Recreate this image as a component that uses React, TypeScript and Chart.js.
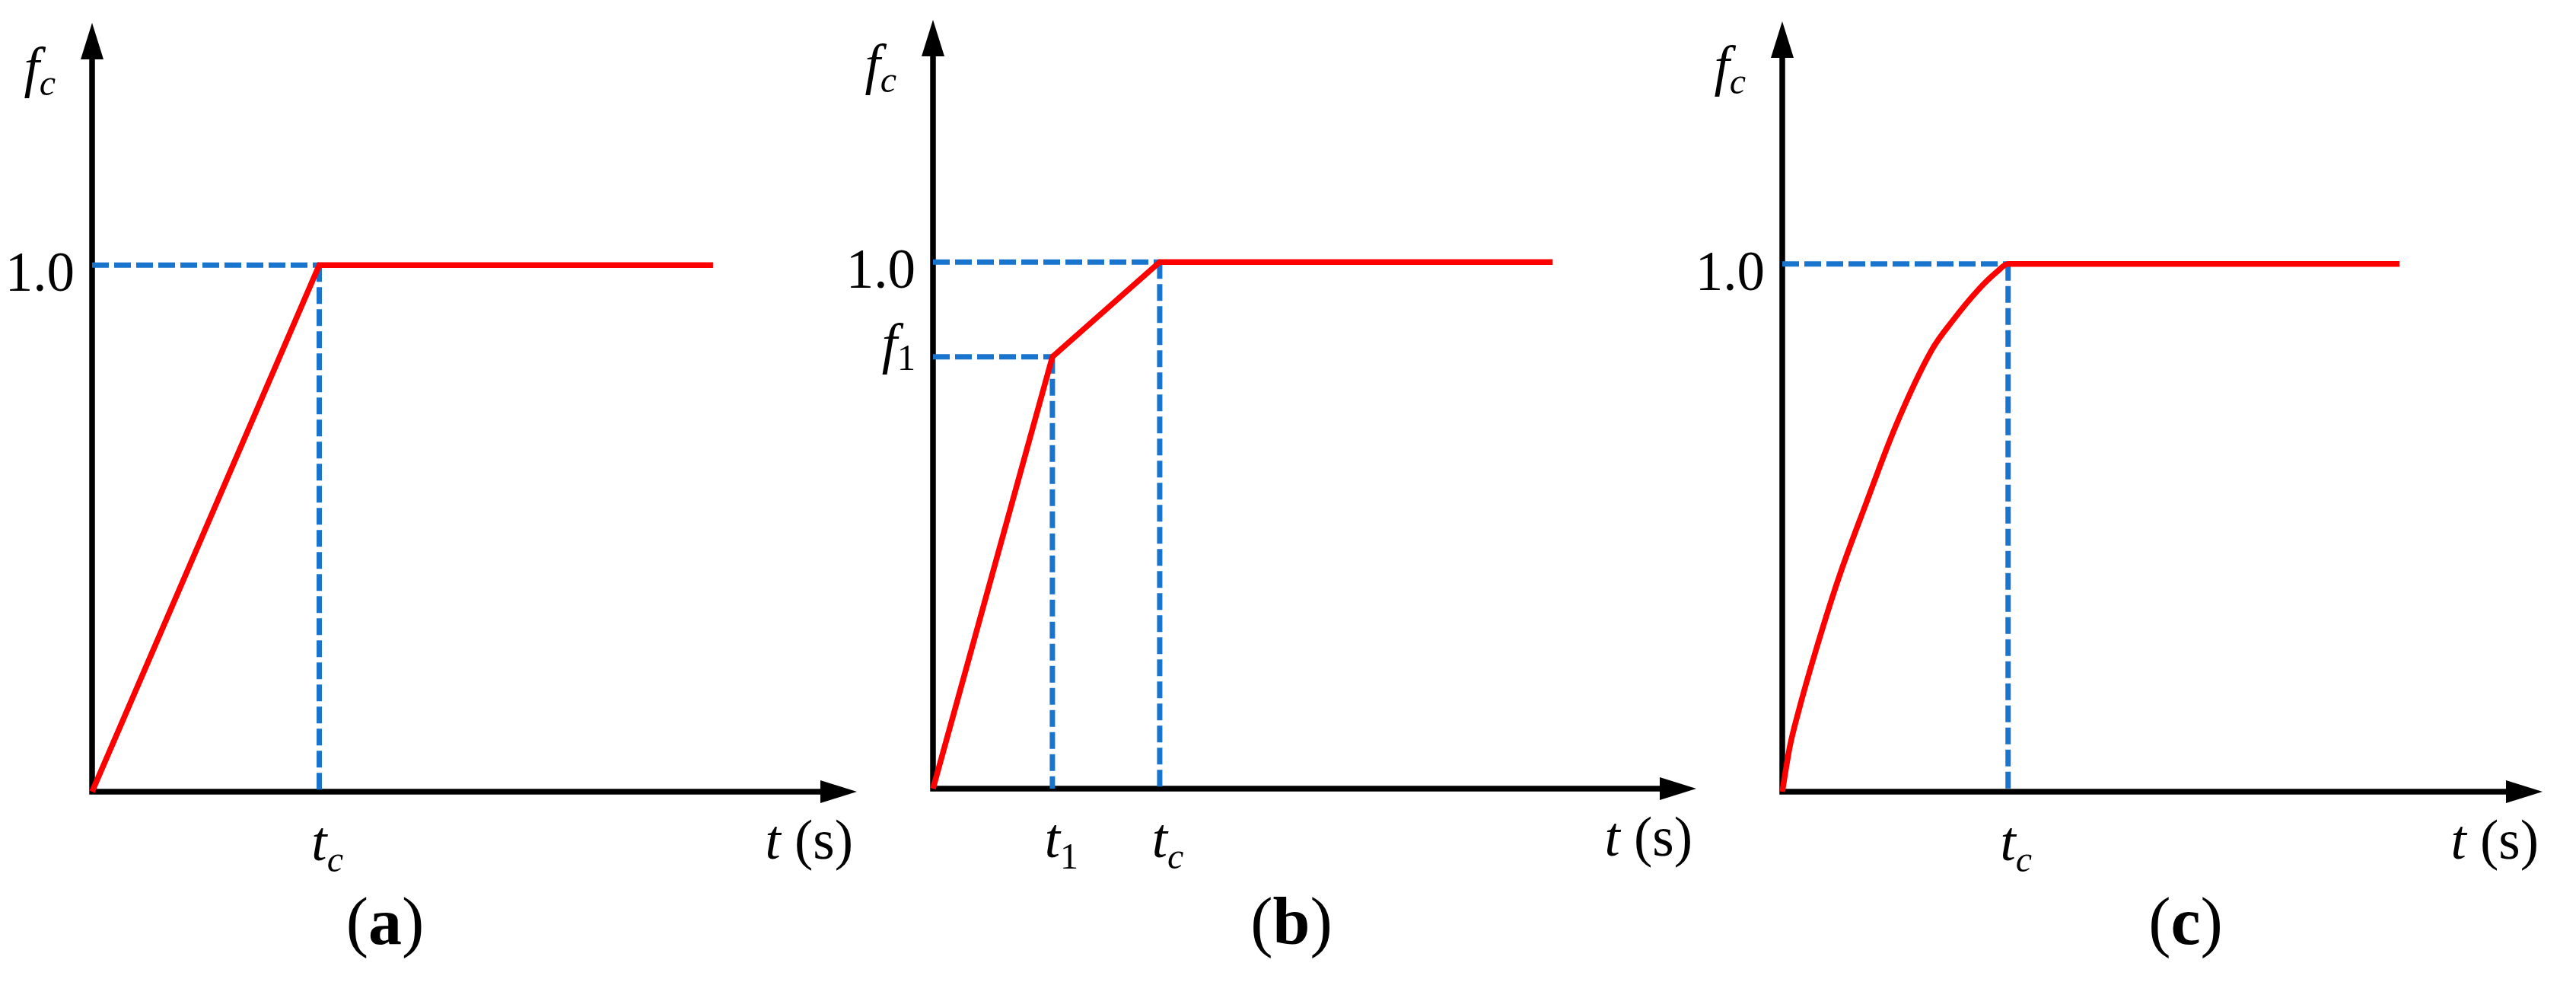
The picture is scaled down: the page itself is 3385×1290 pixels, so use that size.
import React, { useEffect, useRef } from 'react';
import { Chart, registerables } from 'chart.js';

Chart.register(...registerables);

// ---------------- data ----------------
const T_MAX = 10.1;
const F_MAX = 1.46;

// (a) linear ramp up to t_c, then constant
const aTime = [0, 3, 8.2];
const aForce = [0, 1, 1];
const aTimeTicks = [3];
const aTimeTickLabels = ['t_c'];
const aForceTicks = [1];
const aForceTickLabels = ['1.0'];

// (b) bilinear ramp (t_1, f_1) -> (t_c, 1.0), then constant
const bTime = [0, 1.58, 3, 8.2];
const bForce = [0, 0.82, 1, 1];
const bTimeTicks = [1.58, 3];
const bTimeTickLabels = ['t_1', 't_c'];
const bForceTicks = [0.82, 1];
const bForceTickLabels = ['f_1', '1.0'];

// (c) curved ramp up to t_c, then constant
const cTime = [0, 0.1, 0.21, 0.43, 0.75, 1.11, 1.51, 1.99, 2.26, 2.59, 2.85, 3.0, 8.2];
const cForce = [0, 0.085, 0.149, 0.26, 0.405, 0.545, 0.694, 0.838, 0.892, 0.949, 0.985, 1.0, 1.0];
const cTimeTicks = [3];
const cTimeTickLabels = ['t_c'];
const cForceTicks = [1];
const cForceTickLabels = ['1.0'];

const xAxisTitle = 't (s)';
const yAxisTitle = 'f_c';
const captions = ['a', 'b', 'c'];

type Panel = {
  time: number[];
  force: number[];
  timeTicks: number[];
  timeTickLabels: string[];
  forceTicks: number[];
  forceTickLabels: string[];
  caption: string;
  smooth: boolean;
};

const PANELS: Panel[] = [
  { time: aTime, force: aForce, timeTicks: aTimeTicks, timeTickLabels: aTimeTickLabels, forceTicks: aForceTicks, forceTickLabels: aForceTickLabels, caption: captions[0], smooth: false },
  { time: bTime, force: bForce, timeTicks: bTimeTicks, timeTickLabels: bTimeTickLabels, forceTicks: bForceTicks, forceTickLabels: bForceTickLabels, caption: captions[1], smooth: false },
  { time: cTime, force: cForce, timeTicks: cTimeTicks, timeTickLabels: cTimeTickLabels, forceTicks: cForceTicks, forceTickLabels: cForceTickLabels, caption: captions[2], smooth: true },
];

// ---------------- layout & style ----------------
const FIG_W = 3385;
const FIG_H = 1290;
const LAYOUT = [
  { left: 0, width: 1140, originX: 121, originY: 1040, tipX: 1126, tipY: 30, captionX: 506 },
  { left: 1100, width: 1140, originX: 1226, originY: 1036, tipX: 2229, tipY: 26, captionX: 1697 },
  { left: 2200, width: 1185, originX: 2342, originY: 1040, tipX: 3341, tipY: 28, captionX: 2872 },
];

const RED = '#ff0000';
const BLUE = '#1874cd';
const BLACK = '#000000';
const SERIF = "'Liberation Serif', 'Times New Roman', serif";
const FONT_SIZE = 73;
const SUB_SIZE = 48;
const CAPTION_SIZE = 88;
const AXIS_W = 7.5;
const RED_W = 7.5;
const BLUE_W = 7;
const ARROW_LEN = 48;
const ARROW_HALF = 15;

type Run = { text: string; font: string; dy: number };

const isNum = (s: string) => /^[0-9.]+$/.test(s);

function labelRuns(label: string, subDy: number): Run[] {
  const [main, sub] = label.split('_');
  const runs: Run[] = [{ text: main, font: `${isNum(main) ? '' : 'italic '}${FONT_SIZE}px ${SERIF}`, dy: 0 }];
  if (sub) runs.push({ text: sub, font: `${isNum(sub) ? '' : 'italic '}${SUB_SIZE}px ${SERIF}`, dy: subDy });
  return runs;
}

function drawRuns(ctx: CanvasRenderingContext2D, runs: Run[], x: number, y: number, align: 'left' | 'center' | 'right' | 'firstCenter') {
  const widths = runs.map((r) => {
    ctx.font = r.font;
    return ctx.measureText(r.text).width;
  });
  const total = widths.reduce((s, w) => s + w, 0);
  let cx = x;
  if (align === 'center') cx = x - total / 2;
  else if (align === 'right') cx = x - total;
  else if (align === 'firstCenter') cx = x - widths[0] / 2;
  ctx.textAlign = 'left';
  ctx.textBaseline = 'alphabetic';
  ctx.fillStyle = BLACK;
  runs.forEach((r, i) => {
    ctx.font = r.font;
    ctx.fillText(r.text, cx, y + r.dy);
    cx += widths[i];
  });
}

function PanelChart({ index }: { index: number }) {
  const ref = useRef<HTMLCanvasElement>(null);
  const L = LAYOUT[index];

  useEffect(() => {
    const p = PANELS[index];
    const canvas = ref.current;
    if (!canvas) return;

    const curve = p.time.map((t, i) => ({ x: t, y: p.force[i] }));
    const guides: any[] = [];
    p.timeTicks.forEach((t, i) => {
      const f = p.forceTicks[i];
      guides.push([{ x: 0, y: f }, { x: t, y: f }]);
      guides.push([{ x: t, y: f }, { x: t, y: 0 }]);
    });

    const datasets: any[] = [
      {
        data: curve,
        borderColor: RED,
        borderWidth: RED_W,
        pointRadius: 0,
        fill: false,
        tension: 0,
        cubicInterpolationMode: p.smooth ? 'monotone' : 'default',
        borderJoinStyle: 'miter',
        clip: false,
      },
      ...guides.map((g) => ({
        data: g,
        borderColor: BLUE,
        borderWidth: BLUE_W,
        borderDash: [22, 7],
        borderCapStyle: 'butt',
        pointRadius: 0,
        fill: false,
        tension: 0,
        clip: false,
      })),
    ];

    const decor = {
      id: 'decor' + index,
      beforeDatasetsDraw(chart: any) {
        const ctx: CanvasRenderingContext2D = chart.ctx;
        const xs = chart.scales.x;
        const ys = chart.scales.y;
        const ox = xs.getPixelForValue(0);
        const oy = ys.getPixelForValue(0);
        const tx = xs.getPixelForValue(T_MAX);
        const ty = ys.getPixelForValue(F_MAX);
        ctx.save();
        ctx.strokeStyle = BLACK;
        ctx.fillStyle = BLACK;
        ctx.lineWidth = AXIS_W;
        ctx.lineCap = 'butt';
        ctx.setLineDash([]);
        ctx.beginPath();
        ctx.moveTo(ox, oy + AXIS_W / 2);
        ctx.lineTo(ox, ty + ARROW_LEN - 1);
        ctx.moveTo(ox - AXIS_W / 2, oy);
        ctx.lineTo(tx - ARROW_LEN + 1, oy);
        ctx.stroke();
        ctx.beginPath();
        ctx.moveTo(ox, ty);
        ctx.lineTo(ox - ARROW_HALF, ty + ARROW_LEN);
        ctx.lineTo(ox + ARROW_HALF, ty + ARROW_LEN);
        ctx.closePath();
        ctx.fill();
        ctx.beginPath();
        ctx.moveTo(tx, oy);
        ctx.lineTo(tx - ARROW_LEN, oy - ARROW_HALF);
        ctx.lineTo(tx - ARROW_LEN, oy + ARROW_HALF);
        ctx.closePath();
        ctx.fill();
        ctx.restore();
      },
      afterDatasetsDraw(chart: any) {
        const ctx: CanvasRenderingContext2D = chart.ctx;
        const xs = chart.scales.x;
        const ys = chart.scales.y;
        const ox = xs.getPixelForValue(0);
        const oy = ys.getPixelForValue(0);
        const tx = xs.getPixelForValue(T_MAX);
        const ty = ys.getPixelForValue(F_MAX);
        ctx.save();
        // force tick labels
        p.forceTicks.forEach((f, i) => {
          const lab = p.forceTickLabels[i];
          const dy = isNum(lab) ? 34 : 7;
          drawRuns(ctx, labelRuns(lab, 10), ox - 23, ys.getPixelForValue(f) + dy, 'right');
        });
        // time tick labels
        p.timeTicks.forEach((t, i) => {
          drawRuns(ctx, labelRuns(p.timeTickLabels[i], 15), xs.getPixelForValue(t), oy + 90, 'firstCenter');
        });
        // axis titles
        const [v, ...rest] = xAxisTitle.split(' ');
        drawRuns(
          ctx,
          [
            { text: v, font: `italic ${FONT_SIZE}px ${SERIF}`, dy: 0 },
            { text: ' ' + rest.join(' '), font: `${FONT_SIZE}px ${SERIF}`, dy: 0 },
          ],
          tx - 5,
          oy + 88,
          'right'
        );
        drawRuns(ctx, labelRuns(yAxisTitle, 12), ox - 48, ty + 83, 'right');
        // caption
        drawRuns(
          ctx,
          [
            { text: '(', font: `${CAPTION_SIZE}px ${SERIF}`, dy: 0 },
            { text: p.caption, font: `bold ${CAPTION_SIZE}px ${SERIF}`, dy: 0 },
            { text: ')', font: `${CAPTION_SIZE}px ${SERIF}`, dy: 0 },
          ],
          L.captionX - L.left,
          1240,
          'center'
        );
        ctx.restore();
      },
    };

    const chart = new Chart(canvas, {
      type: 'line',
      data: { datasets },
      options: {
        animation: false,
        responsive: false,
        maintainAspectRatio: false,
        devicePixelRatio: 1,
        events: [],
        layout: {
          padding: {
            left: L.originX - L.left,
            right: L.left + L.width - L.tipX,
            top: L.tipY,
            bottom: FIG_H - L.originY,
          },
        },
        scales: {
          x: { type: 'linear', min: 0, max: T_MAX, display: false },
          y: { type: 'linear', min: 0, max: F_MAX, display: false },
        },
        plugins: {
          legend: { display: false },
          tooltip: { enabled: false },
          title: { display: false },
        },
      } as any,
      plugins: [decor],
    });
    return () => chart.destroy();
  }, [index]);

  return (
    <canvas
      ref={ref}
      width={L.width}
      height={FIG_H}
      style={{ position: 'absolute', left: L.left, top: 0, width: L.width, height: FIG_H }}
    />
  );
}

export default function App() {
  return (
    <div style={{ position: 'absolute', left: 0, top: 0, width: FIG_W, height: FIG_H, background: '#ffffff', overflow: 'hidden' }}>
      {LAYOUT.map((_, i) => (
        <PanelChart key={i} index={i} />
      ))}
    </div>
  );
}
